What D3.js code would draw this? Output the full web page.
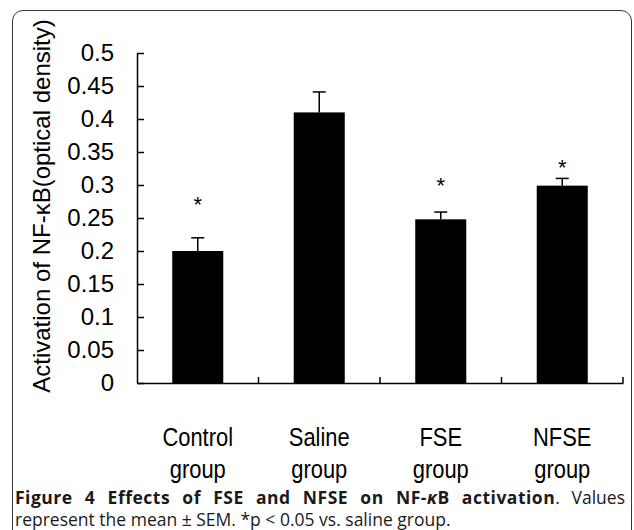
<!DOCTYPE html>
<html><head><meta charset="utf-8">
<script src="https://cdn.jsdelivr.net/npm/d3@7"></script>
<style>
html,body{margin:0;padding:0;background:#fff;overflow:hidden;}
#wrap{position:relative;width:634px;height:530px;overflow:hidden;}
#frame{position:absolute;left:12px;top:10px;width:618px;height:600px;border:1.6px solid #383838;border-radius:11px;pointer-events:none;}
svg{display:block;position:absolute;left:0;top:0;}
</style></head>
<body>
<div id="wrap">
<svg id="chart" width="634" height="530"></svg>
<div id="frame"></div>
</div>
<script>
const categories = ["Control group", "Saline group", "FSE group", "NFSE group"];
const means = [0.2, 0.41, 0.248, 0.299];
const sems = [0.02, 0.031, 0.011, 0.011];
const starLevels = [0.277, null, 0.306, 0.333];
const yTicks = [0, 0.05, 0.1, 0.15, 0.2, 0.25, 0.3, 0.35, 0.4, 0.45, 0.5];
const yTitle = "Activation of NF-\u03baB(optical density)";

(function () {
const svg = d3.select("#chart");

const pl = 137, pr = 623, pt = 53, pb = 383;
const y = d3.scaleLinear().domain([0, 0.5]).range([pb, pt]);
const x = d3.scaleBand().domain(categories).range([pl, pr]).paddingInner(0.58).paddingOuter(0.29);

const font = "'Liberation Sans', Arial, sans-serif";

// y axis
const yAxis = svg.append("g").attr("transform", `translate(${pl},0)`)
  .call(d3.axisLeft(y).tickValues(yTicks).tickFormat(d => String(d)).tickSizeInner(-7).tickSizeOuter(0).tickPadding(23));
yAxis.selectAll("path,line").attr("stroke", "#000").attr("stroke-width", 1.5);
yAxis.selectAll("text").attr("font-family", font).attr("font-size", 24).attr("fill", "#000");

// x axis
const xAxis = svg.append("g").attr("transform", `translate(0,${pb})`)
  .call(d3.axisBottom(x).tickValues([]).tickSizeOuter(0));
xAxis.select("path").attr("stroke", "#000").attr("stroke-width", 1.5);
const bounds = d3.range(1, categories.length + 1).map(i => x.range()[0] + i * x.step());
svg.append("g").selectAll("line").data(bounds).join("line")
  .attr("x1", d => d).attr("x2", d => d).attr("y1", pb).attr("y2", pb - 6)
  .attr("stroke", "#000").attr("stroke-width", 1.5);

// bars
svg.append("g").selectAll("rect").data(categories).join("rect")
  .attr("x", d => x(d)).attr("width", x.bandwidth())
  .attr("y", (d, i) => y(means[i])).attr("height", (d, i) => y(0) - y(means[i]))
  .attr("fill", "#000");

// error bars
const eb = svg.append("g").attr("stroke", "#000").attr("stroke-width", 1.5);
categories.forEach((c, i) => {
  const cx = x(c) + x.bandwidth() / 2;
  eb.append("line").attr("x1", cx).attr("x2", cx).attr("y1", y(means[i])).attr("y2", y(means[i] + sems[i]));
  eb.append("line").attr("x1", cx - 6.5).attr("x2", cx + 6.5).attr("y1", y(means[i] + sems[i])).attr("y2", y(means[i] + sems[i]));
});

// stars
categories.forEach((c, i) => {
  if (starLevels[i] == null) return;
  const cx = x(c) + x.bandwidth() / 2;
  svg.append("text").attr("x", cx).attr("y", y(starLevels[i]) + 12)
    .attr("text-anchor", "middle").attr("font-family", font).attr("font-size", 22).text("*");
});

// category labels (condensed, like Arial Narrow)
categories.forEach(c => {
  const cx = x(c) + x.bandwidth() / 2;
  const parts = c.split(" ");
  [446, 478].forEach((yy, k) => {
    svg.append("text").attr("transform", `translate(${cx},${yy}) scale(0.86,1)`)
      .attr("text-anchor", "middle").attr("font-family", font).attr("font-size", 25.5).text(parts[k]);
  });
});

// y title
svg.append("text").attr("transform", `translate(50,206) rotate(-90)`)
  .attr("text-anchor", "middle").attr("font-family", font).attr("font-size", 24).text(yTitle);

// caption
const capFont = "'Open Sans', 'Noto Sans', sans-serif";
const capSize = 17.5;
const cap1 = svg.append("text").attr("x", 15).attr("y", 504).attr("font-family", capFont)
  .attr("font-size", capSize).attr("fill", "#1a1a1a");
cap1.append("tspan").attr("font-weight", "bold").attr("letter-spacing", 0.5).text("Figure 4 Effects of FSE and NFSE on NF-");
cap1.append("tspan").attr("font-weight", "bold").attr("font-style", "italic").attr("letter-spacing", 0.5).text("\u03ba");
cap1.append("tspan").attr("font-weight", "bold").attr("letter-spacing", 0.5).text("B activation");
cap1.append("tspan").text(". Values");
const cap2 = svg.append("text").attr("x", 15).attr("y", 526).attr("font-family", capFont)
  .attr("font-size", capSize).attr("fill", "#1a1a1a")
  .text("represent the mean \u00b1 SEM. *p < 0.05 vs. saline group.");
function justify() {
  cap1.attr("word-spacing", null);
  const w1 = cap1.node().getComputedTextLength();
  cap1.attr("word-spacing", Math.max(0, (610 - w1) / 10));
}
justify();
if (document.fonts && document.fonts.ready) document.fonts.ready.then(justify);
})();
</script>
</body></html>
